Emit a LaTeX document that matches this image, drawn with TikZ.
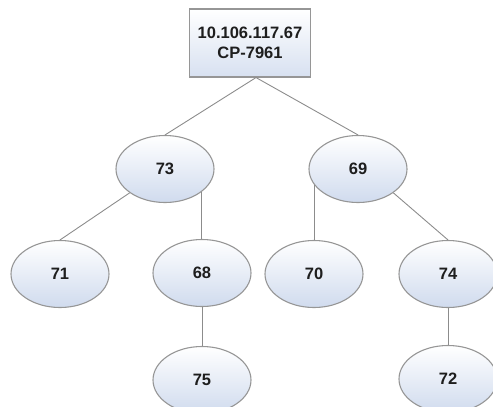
\documentclass[tikz,border=0pt]{standalone}
\usepackage{fontspec}
\setmainfont{Liberation Sans}
\usetikzlibrary{shapes.geometric}
\definecolor{nodeline}{RGB}{150,150,150}
\definecolor{nodefill}{RGB}{208,219,238}
\definecolor{linkline}{RGB}{140,140,140}
\definecolor{nodetext}{RGB}{30,30,30}
\begin{document}
\begin{tikzpicture}[x=1pt,y=-1pt,
  every node/.style={font=\fontsize{16.5}{19.5}\selectfont\bfseries,text=nodetext},
  vertex/.style={ellipse,draw=nodeline,line width=1.1pt,top color=white,bottom color=nodefill,
    minimum width=98pt,minimum height=67pt,inner sep=0pt},
  rootbox/.style={rectangle,draw=nodeline,line width=1.1pt,top color=white,bottom color=nodefill!85,
    minimum width=121pt,minimum height=68pt,align=center},
  link/.style={draw=linkline,line width=0.9pt}]
\useasboundingbox (0,0) rectangle (493,407);
\node[rootbox] (root) at (250,43) {10.106.117.67\\CP-7961};
\node[vertex] (n73) at (165,169) {73};
\node[vertex] (n69) at (358,169) {69};
\node[vertex] (n71) at (60,274) {71};
\node[vertex] (n68) at (202,273) {68};
\node[vertex] (n70) at (314,274) {70};
\node[vertex] (n74) at (448,274) {74};
\node[vertex] (n75) at (202,380) {75};
\node[vertex] (n72) at (448,379) {72};
\draw[link] ([xshift=6pt]root.south) -- (n73.north);
\draw[link] ([xshift=6pt]root.south) -- (n69.north);
\draw[link] (n73.214) -- (n71.north);
\draw[link] (n73.-33) -- (n73.-33 |- n68.north);
\draw[link] (n69.200) -- (n69.200 |- n70.north);
\draw[link] (n69.326) -- (n74.north);
\draw[link] (n68.south) -- (n75.north);
\draw[link] (n74.south) -- (n72.north);
\end{tikzpicture}
\end{document}
